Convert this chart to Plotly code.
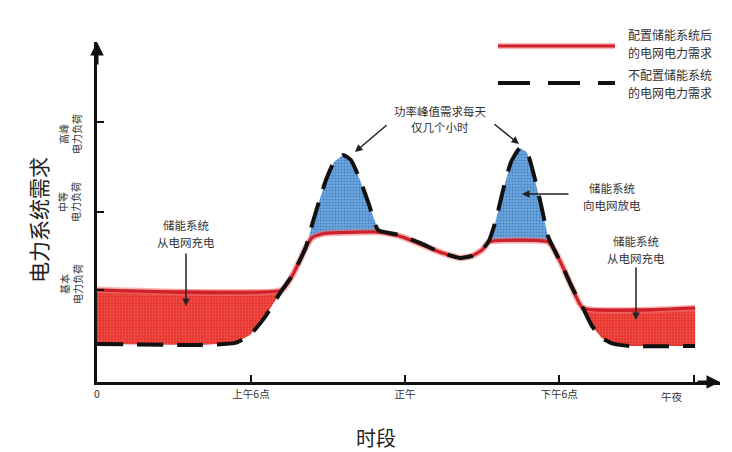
import plotly.graph_objects as go

# ---------------- data (hours of day, demand in % of axis) ----------------
hours_with = [0, 7.21, 7.60, 7.91, 8.14, 8.41, 8.88, 9.86, 10.95, 11.80, 12.58, 13.36,
              14.14, 14.61, 15.00, 15.27, 17.57, 17.84, 18.15, 18.50, 18.93, 23.30]
demand_with = [27.1, 27.1, 31.2, 35.9, 39.7, 42.6, 43.7, 44.0, 44.1, 42.9, 40.6, 38.2,
               36.5, 37.1, 38.8, 41.2, 41.2, 38.5, 33.8, 27.9, 21.8, 21.8]

hours_without = [0, 4.01, 5.38, 5.96, 6.54, 7.21, 7.60, 7.91, 8.14, 8.34, 8.61, 8.92, 9.23,
                 9.58, 9.89, 10.25, 10.60, 10.95, 11.80, 12.58, 13.36, 14.14, 14.61, 15.00,
                 15.27, 15.54, 15.82, 16.13, 16.48, 16.75, 17.02, 17.30, 17.57, 17.84, 18.15,
                 18.50, 18.93, 19.28, 19.67, 20.14, 20.76, 23.30]
demand_without = [11.2, 10.9, 11.5, 13.8, 19.1, 27.1, 31.2, 35.9, 39.7, 45.3, 52.1, 59.4, 64.7,
                  66.8, 65.3, 59.4, 52.1, 44.7, 43.2, 40.9, 38.2, 36.5, 37.1, 38.8,
                  41.5, 47.6, 56.5, 64.7, 68.8, 67.6, 60.9, 52.1, 42.9, 38.5, 33.8,
                  27.9, 21.8, 16.5, 12.9, 11.2, 10.6, 10.6]

x_tick_vals = [0, 6, 12, 18, 23.26]
x_tick_text = ["0", "上午6点", "正午", "下午6点", ""]
midnight_label = "午夜"
y_tick_vals = [27.1, 50, 76.5]
y_tick_text = ["基本<br>电力负荷", "中等<br>电力负荷", "高峰<br>电力负荷"]

# ranges of the shaded areas (hours)
charge_am = (0, 7.21)
peak_am = (8.14, 10.95)
peak_pm = (15.27, 17.57)
charge_pm = (18.93, 23.30)

FONT = "Noto Sans CJK SC"
W, H = 732, 452
L, R, T, B = 97, 720, 42, 382
X_MAX = 24.27


def seg(xs, ys, lo, hi):
    pts = [(x, y) for x, y in zip(xs, ys) if lo - 1e-9 <= x <= hi + 1e-9]
    return [p[0] for p in pts], [p[1] for p in pts]


def region(top_x, top_y, bot_x, bot_y, rng):
    tx, ty = seg(top_x, top_y, *rng)
    bx, by = seg(bot_x, bot_y, *rng)
    return tx + bx[::-1], ty + by[::-1]


fig = go.Figure()

# red charging areas
for rng in (charge_am, charge_pm):
    px_, py_ = region(hours_with, demand_with, hours_without, demand_without, rng)
    fig.add_trace(go.Scatter(x=px_, y=py_, mode="lines", fill="toself",
                             line=dict(width=0, color="rgba(0,0,0,0)"),
                             fillcolor="#e8332d",
                             fillpattern=dict(shape=".", bgcolor="#e8342e", fgcolor="#ef5a4f",
                                              size=3, solidity=0.3, fillmode="replace"),
                             hoverinfo="skip", showlegend=False))

# blue peak areas
for rng in (peak_am, peak_pm):
    px_, py_ = region(hours_without, demand_without, hours_with, demand_with, rng)
    fig.add_trace(go.Scatter(x=px_, y=py_, mode="lines", fill="toself",
                             line=dict(width=0, color="rgba(0,0,0,0)"),
                             fillcolor="#5f9fd9",
                             fillpattern=dict(shape=".", bgcolor="#6ca8de", fgcolor="#4a82c4",
                                              size=3, solidity=0.35, fillmode="replace"),
                             hoverinfo="skip", showlegend=False))

# with-storage demand (red)
fig.add_trace(go.Scatter(x=hours_with, y=demand_with, mode="lines",
                         line=dict(color="rgba(240,120,120,0.55)", width=6.5, shape="spline",
                                   smoothing=0.5),
                         hoverinfo="skip", showlegend=False))
fig.add_trace(go.Scatter(x=hours_with, y=demand_with, mode="lines",
                         line=dict(color="#d0212a", width=3.2, shape="spline", smoothing=0.5),
                         hoverinfo="skip", showlegend=False))
# without-storage demand (black dashed)
fig.add_trace(go.Scatter(x=hours_without, y=demand_without, mode="lines",
                         line=dict(color="#111111", width=4, dash="26px,14px", shape="spline",
                                   smoothing=0.5),
                         hoverinfo="skip", showlegend=False))


def P(px, py):
    return (px - L) / (R - L), (B - py) / (B - T)


ann = []
shapes = []


def text(s, px, py, size=12, xanchor="center", angle=0, color="#333333"):
    x, y = P(px, py)
    ann.append(dict(text=s, x=x, y=y, xref="paper", yref="paper", showarrow=False,
                    xanchor=xanchor, yanchor="middle", textangle=angle,
                    font=dict(family=FONT, size=size, color=color)))


def arrow(tail, head, width=1.5):
    x, y = P(*head)
    ann.append(dict(text="", x=x, y=y, xref="paper", yref="paper", showarrow=True,
                    ax=tail[0] - head[0], ay=tail[1] - head[1], arrowhead=2, arrowsize=1,
                    arrowwidth=width, arrowcolor="#222222", standoff=0))


# axis arrows
ann.append(dict(text="", x=1.0, y=0, xref="paper", yref="paper", showarrow=True,
                ax=-24, ay=0, arrowhead=2, arrowsize=0.9, arrowwidth=3, arrowcolor="#111",
                standoff=0))
ann.append(dict(text="", x=0, y=1.0, xref="paper", yref="paper", showarrow=True,
                ax=0, ay=24, arrowhead=2, arrowsize=0.9, arrowwidth=3, arrowcolor="#111",
                standoff=0))

# titles
text("电力系统需求", 38, 220, size=21, angle=-90, color="#222")
text("时段", 376, 437, size=20, color="#222")
text(midnight_label, 672, 396, size=10.5)

# y "tick" labels
for v, s, cx in zip(y_tick_vals, y_tick_text, [71, 69, 70]):
    cy = {27.1: 284, 50: 202, 76.5: 134}[v]
    text(s, cx, cy, size=10, angle=-90)

# annotations
text("功率峰值需求每天", 440, 111, size=11.5)
text("仅几个小时", 440, 127, size=11.5)
arrow((388, 124), (355, 152))
arrow((493, 123), (519, 144))

text("储能系统", 612, 188, size=11.5)
text("向电网放电", 612, 205, size=11.5)
arrow((570, 194), (522, 194))

text("储能系统", 186, 225, size=11.5)
text("从电网充电", 186, 242, size=11.5)
arrow((186, 252), (186, 306))

text("储能系统", 636, 241, size=11.5)
text("从电网充电", 636, 258, size=11.5)
arrow((636, 266), (636, 320))

# legend
text("配置储能系统后", 626, 34, size=12, xanchor="left")
text("的电网电力需求", 626, 52, size=12, xanchor="left")
text("不配置储能系统", 626, 74, size=12, xanchor="left")
text("的电网电力需求", 626, 92, size=12, xanchor="left")
x0, y0 = P(498, 46)
x1, _ = P(615, 46)
shapes.append(dict(type="line", xref="paper", yref="paper", x0=x0, x1=x1, y0=y0, y1=y0,
                   line=dict(color="rgba(240,120,120,0.55)", width=6)))
shapes.append(dict(type="line", xref="paper", yref="paper", x0=x0, x1=x1, y0=y0, y1=y0,
                   line=dict(color="#d0212a", width=3)))
_, y2 = P(0, 83)
shapes.append(dict(type="line", xref="paper", yref="paper", x0=x0, x1=x1, y0=y2, y1=y2,
                   line=dict(color="#111111", width=4, dash="32px,18px")))

fig.update_layout(
    width=W, height=H,
    margin=dict(l=L, r=W - R, t=T, b=H - B, pad=0),
    paper_bgcolor="white", plot_bgcolor="white",
    annotations=ann, shapes=shapes,
    xaxis=dict(range=[0, X_MAX], showline=True, linecolor="#111", linewidth=3,
               showgrid=False, zeroline=False, ticks="inside", ticklen=7, tickwidth=2,
               tickcolor="#111", tickvals=x_tick_vals, ticktext=x_tick_text,
               tickfont=dict(family=FONT, size=10.5, color="#333"), fixedrange=True),
    yaxis=dict(range=[0, 100], showline=True, linecolor="#111", linewidth=3,
               showgrid=False, zeroline=False, ticks="inside", ticklen=7, tickwidth=2,
               tickcolor="#111", tickvals=y_tick_vals, showticklabels=False,
               fixedrange=True),
    showlegend=False,
)

fig.write_html("out.html", config={"displayModeBar": False},
               post_script="document.body.style.margin='0';document.body.style.overflow='hidden';")
